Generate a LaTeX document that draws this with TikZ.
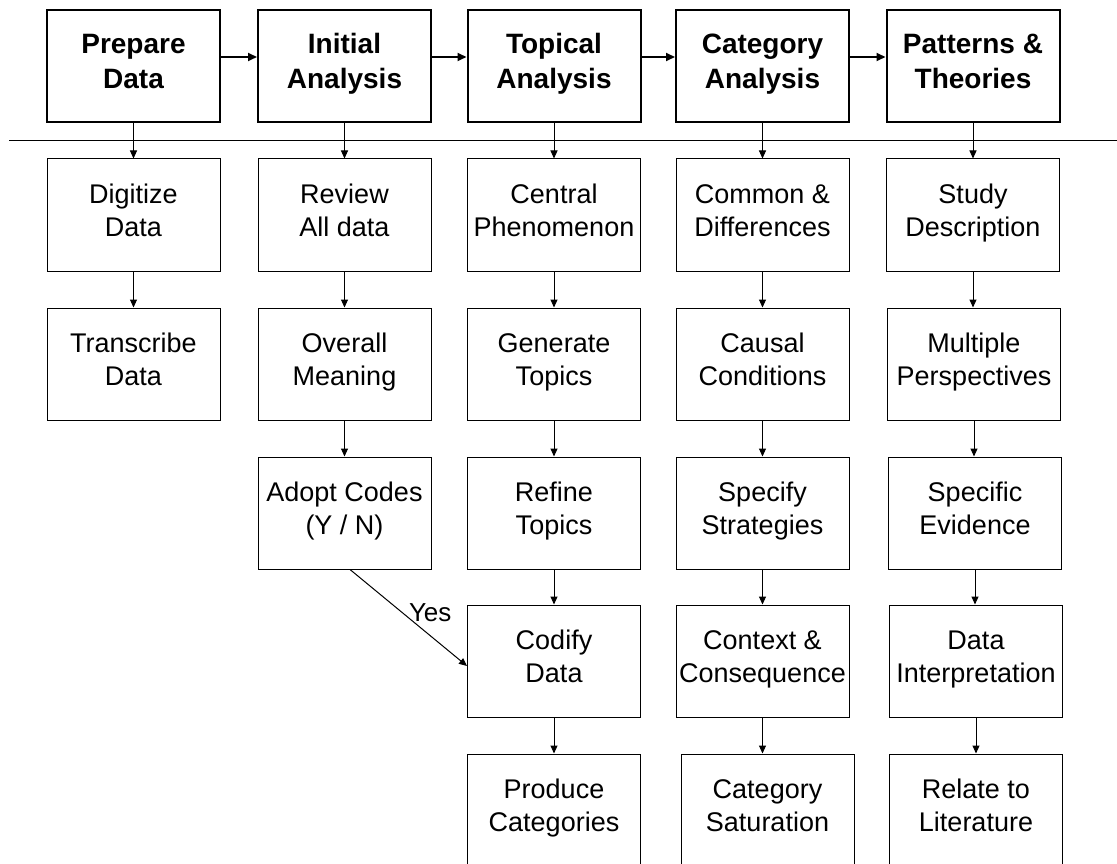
\documentclass[tikz,border=0pt]{standalone}
\usepackage{fontspec}
\setmainfont{Liberation Sans}
\usetikzlibrary{arrows.meta}
\newcommand\boxtext[1]{\raisebox{1.5pt}[\height][\depth]{\begin{tabular}{@{}c@{}}#1\end{tabular}}}
\tikzset{
  stepbox/.style={draw, line width=1pt, minimum width=173pt, minimum height=112pt,
    inner sep=0pt, font=\fontsize{27}{33.5}\selectfont},
  headbox/.style={stepbox, line width=2pt, font=\bfseries\fontsize{28}{35}\selectfont},
  thinarrow/.style={line width=1pt, -{Triangle[length=8pt,width=7pt]}},
  headarrow/.style={line width=2pt, -{Triangle[length=9pt,width=8pt]}},
}
\begin{document}
\begin{tikzpicture}[x=1pt,y=-1pt]
\useasboundingbox (0,0) rectangle (1117,864);
\fill[white] (0,0) rectangle (1117,864);
% header
\node[headbox] (h1) at (133.5,66) {\boxtext{Prepare\\Data}};
\node[headbox] (h2) at (344.5,66) {\boxtext{Initial\\Analysis}};
\node[headbox] (h3) at (554,66) {\boxtext{Topical\\Analysis}};
\node[headbox] (h4) at (762.5,66) {\boxtext{Category\\Analysis}};
\node[headbox] (h5) at (973,66) {\boxtext{Patterns \&\\Theories}};
\foreach \a/\b in {h1/h2,h2/h3,h3/h4,h4/h5}
  \draw[headarrow] ([yshift=9pt]\a.east) -- ([yshift=9pt]\b.west);
% separator
\draw[line width=1.2pt] (9,140.5) -- (1117,140.5);
% column 1
\node[stepbox] (a1) at (133.5,215) {\boxtext{Digitize\\Data}};
\node[stepbox] (a2) at (133.5,364) {\boxtext{Transcribe\\Data}};
% column 2
\node[stepbox] (b1) at (344.5,215) {\boxtext{Review\\All data}};
\node[stepbox] (b2) at (344.5,364) {\boxtext{Overall\\Meaning}};
\node[stepbox] (b3) at (344.5,513) {\boxtext{Adopt Codes\\(Y / N)}};
% column 3
\node[stepbox] (c1) at (554,215) {\boxtext{Central\\Phenomenon}};
\node[stepbox] (c2) at (554,364) {\boxtext{Generate\\Topics}};
\node[stepbox] (c3) at (554,513) {\boxtext{Refine\\Topics}};
\node[stepbox] (c4) at (554,661) {\boxtext{Codify\\Data}};
\node[stepbox] (c5) at (554,810) {\boxtext{Produce\\Categories}};
% column 4
\node[stepbox] (d1) at (762.5,215) {\boxtext{Common \&\\Differences}};
\node[stepbox] (d2) at (762.5,364) {\boxtext{Causal\\Conditions}};
\node[stepbox] (d3) at (762.5,513) {\boxtext{Specify\\Strategies}};
\node[stepbox] (d4) at (762.5,661) {\boxtext{Context \&\\Consequence}};
\node[stepbox] (d5) at (767.5,810) {\boxtext{Category\\Saturation}};
% column 5
\node[stepbox] (e1) at (973,215) {\boxtext{Study\\Description}};
\node[stepbox] (e2) at (974,364) {\boxtext{Multiple\\Perspectives}};
\node[stepbox] (e3) at (975,513) {\boxtext{Specific\\Evidence}};
\node[stepbox] (e4) at (976,661) {\boxtext{Data\\Interpretation}};
\node[stepbox] (e5) at (976,810) {\boxtext{Relate to\\Literature}};
% header to first row
\foreach \a/\b in {h1/a1,h2/b1,h3/c1,h4/d1,h5/e1}
  \draw[thinarrow] (\a.south) -- (\b.north);
% vertical chains
\foreach \a/\b in {a1/a2,b1/b2,b2/b3,c1/c2,c2/c3,c3/c4,c4/c5,d1/d2,d2/d3,d3/d4,e1/e2,e2/e3,e3/e4,e4/e5}
  \draw[thinarrow] (\a.south) -- (\a.south |- \b.north);
\draw[thinarrow] (d4.south) -- (d4.south |- d5.north);
% Yes connector
\draw[thinarrow] ([xshift=5.5pt]b3.south) -- node[pos=0.5, anchor=base west, inner sep=0pt, yshift=-3.5pt, font=\fontsize{26}{30}\selectfont] (yes) {Yes} ([yshift=-5pt]c4.west);
\end{tikzpicture}
\end{document}
